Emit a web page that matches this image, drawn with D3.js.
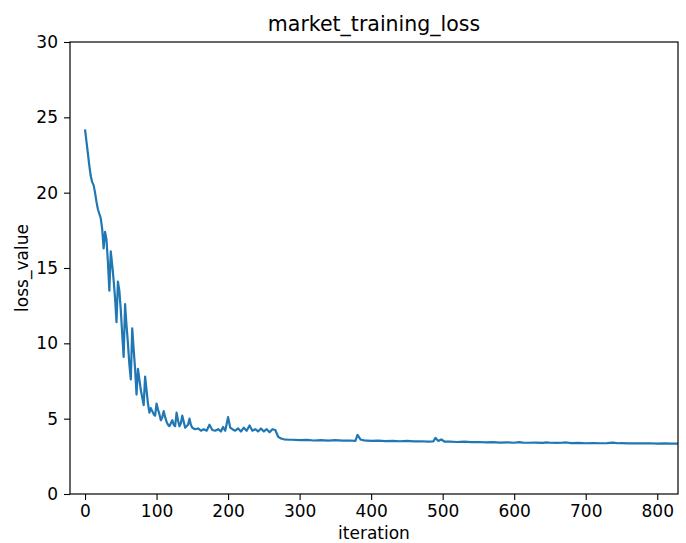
<!DOCTYPE html>
<html>
<head>
<meta charset="utf-8">
<script src="https://cdn.jsdelivr.net/npm/d3@7"></script>
<style>
  html, body { margin: 0; padding: 0; background: #fff; }
  svg { display: block; }
  text { font-family: "DejaVu Sans", sans-serif; fill: #000; }
</style>
</head>
<body>
<svg id="chart" width="686" height="543"></svg>
<script>
const title = "market_training_loss";
const xLabel = "iteration";
const yLabel = "loss_value";
const xTicks = [0, 100, 200, 300, 400, 500, 600, 700, 800];
const yTicks = [0, 5, 10, 15, 20, 25, 30];
const iterations = [
  0, 2, 4, 6, 8, 10, 12, 14, 16, 18, 20, 22, 24, 26, 28, 30, 32, 34, 36, 38,
  40, 42, 44, 46, 48, 50, 52, 54, 56, 58, 60, 62, 64, 66, 68, 70, 72, 74, 76, 78,
  80, 82, 84, 86, 88, 90, 92, 94, 96, 98, 100, 102, 104, 106, 108, 110, 112, 114, 116, 118,
  120, 122, 124, 126, 128, 130, 132, 134, 136, 138, 140, 142, 144, 146, 148, 150,
  154, 158, 162, 166, 170, 174, 178, 182, 186, 190, 193, 196, 200, 203, 206, 210, 214, 218,
  222, 226, 230, 234, 238, 242, 246, 250, 254, 258, 262, 266, 270, 274, 278, 285,
  290, 300, 310, 320, 330, 340, 350, 360, 370, 378, 381, 385, 390, 400, 410, 420, 430, 440,
  450, 460, 470, 480, 487, 490, 494, 498, 503, 510, 520, 530, 540, 550, 560, 570, 580, 590,
  600, 607, 612, 620, 630, 640, 645, 650, 660, 666, 673, 680, 690, 700, 710, 720, 730, 738,
  745, 750, 760, 770, 780, 790, 800, 810, 820, 830
];
const lossValues = [
  24.2, 23.4, 22.6, 21.8, 21.1, 20.7, 20.5, 20.0, 19.4, 18.9, 18.6, 18.3, 17.6, 16.3, 17.4, 16.9, 15.4, 13.5, 16.1, 15.2,
  14.2, 13.0, 11.4, 14.1, 13.5, 12.2, 10.6, 9.1, 12.6, 11.2, 10.0, 8.6, 7.6, 11.0, 9.6, 8.3, 6.6, 8.3, 7.6, 6.9,
  6.4, 5.9, 7.8, 6.9, 6.0, 5.4, 5.7, 5.5, 5.3, 5.2, 6.0, 5.6, 5.3, 4.9, 5.1, 5.5, 5.1, 4.8, 4.6, 4.5,
  4.7, 4.9, 4.6, 4.5, 5.4, 4.9, 4.5, 4.7, 5.2, 4.8, 4.4, 4.5, 4.6, 5.0, 4.6, 4.4,
  4.3, 4.35, 4.2, 4.3, 4.2, 4.6, 4.25, 4.2, 4.3, 4.15, 4.45, 4.2, 5.1, 4.4, 4.3, 4.2, 4.35, 4.15,
  4.4, 4.2, 4.55, 4.2, 4.3, 4.15, 4.35, 4.15, 4.3, 4.1, 4.3, 4.25, 3.8, 3.68, 3.63, 3.6,
  3.60, 3.57, 3.59, 3.55, 3.57, 3.54, 3.57, 3.54, 3.55, 3.53, 3.92, 3.62, 3.56, 3.52, 3.54, 3.51, 3.53, 3.50,
  3.52, 3.49, 3.50, 3.47, 3.49, 3.72, 3.52, 3.62, 3.47, 3.48, 3.45, 3.47, 3.44, 3.45, 3.43, 3.44, 3.41, 3.43,
  3.40, 3.44, 3.41, 3.40, 3.41, 3.39, 3.43, 3.40, 3.39, 3.40, 3.42, 3.38, 3.39, 3.37, 3.38, 3.37, 3.38, 3.41,
  3.37, 3.38, 3.36, 3.37, 3.36, 3.37, 3.35, 3.36, 3.35, 3.35
];

const svg = d3.select("#chart");
const L = 70, R = 678, T = 42, B = 494;

const x = d3.scaleLinear().domain([-21, 829]).range([L, R]);
const y = d3.scaleLinear().domain([0, 30]).range([B, T]);

svg.append("defs").append("clipPath").attr("id", "clip")
  .append("rect").attr("x", L).attr("y", T).attr("width", R - L).attr("height", B - T);

const data = iterations.map((it, i) => ({ it, v: lossValues[i] }));

svg.append("path")
  .datum(data)
  .attr("clip-path", "url(#clip)")
  .attr("fill", "none")
  .attr("stroke", "#1f77b4")
  .attr("stroke-width", 2.2)
  .attr("stroke-linejoin", "round")
  .attr("d", d3.line().x(d => x(d.it)).y(d => y(d.v)));

// axes
const xAxis = svg.append("g").attr("transform", `translate(0,${B})`)
  .call(d3.axisBottom(x).tickValues(xTicks).tickSize(6).tickPadding(5).tickFormat(d3.format("d")));
const yAxis = svg.append("g").attr("transform", `translate(${L},0)`)
  .call(d3.axisLeft(y).tickValues(yTicks).tickSize(6).tickPadding(6).tickFormat(d3.format("d")));
[xAxis, yAxis].forEach(g => {
  g.select(".domain").remove();
  g.selectAll(".tick line").attr("stroke", "#000").attr("stroke-width", 1.1);
  g.selectAll(".tick text").attr("font-size", 17).attr("font-family", "DejaVu Sans, sans-serif").attr("fill", "#000");
});

// spines
svg.append("rect")
  .attr("x", L).attr("y", T).attr("width", R - L).attr("height", B - T)
  .attr("fill", "none").attr("stroke", "#000").attr("stroke-width", 1.2);

svg.append("text").attr("x", (L + R) / 2).attr("y", 31)
  .attr("text-anchor", "middle").attr("font-size", 20.5).text(title);
svg.append("text").attr("x", (L + R) / 2).attr("y", 539)
  .attr("text-anchor", "middle").attr("font-size", 17).text(xLabel);
svg.append("text").attr("transform", `translate(28,${(T + B) / 2}) rotate(-90)`)
  .attr("text-anchor", "middle").attr("font-size", 17).text(yLabel);
</script>
</body>
</html>
